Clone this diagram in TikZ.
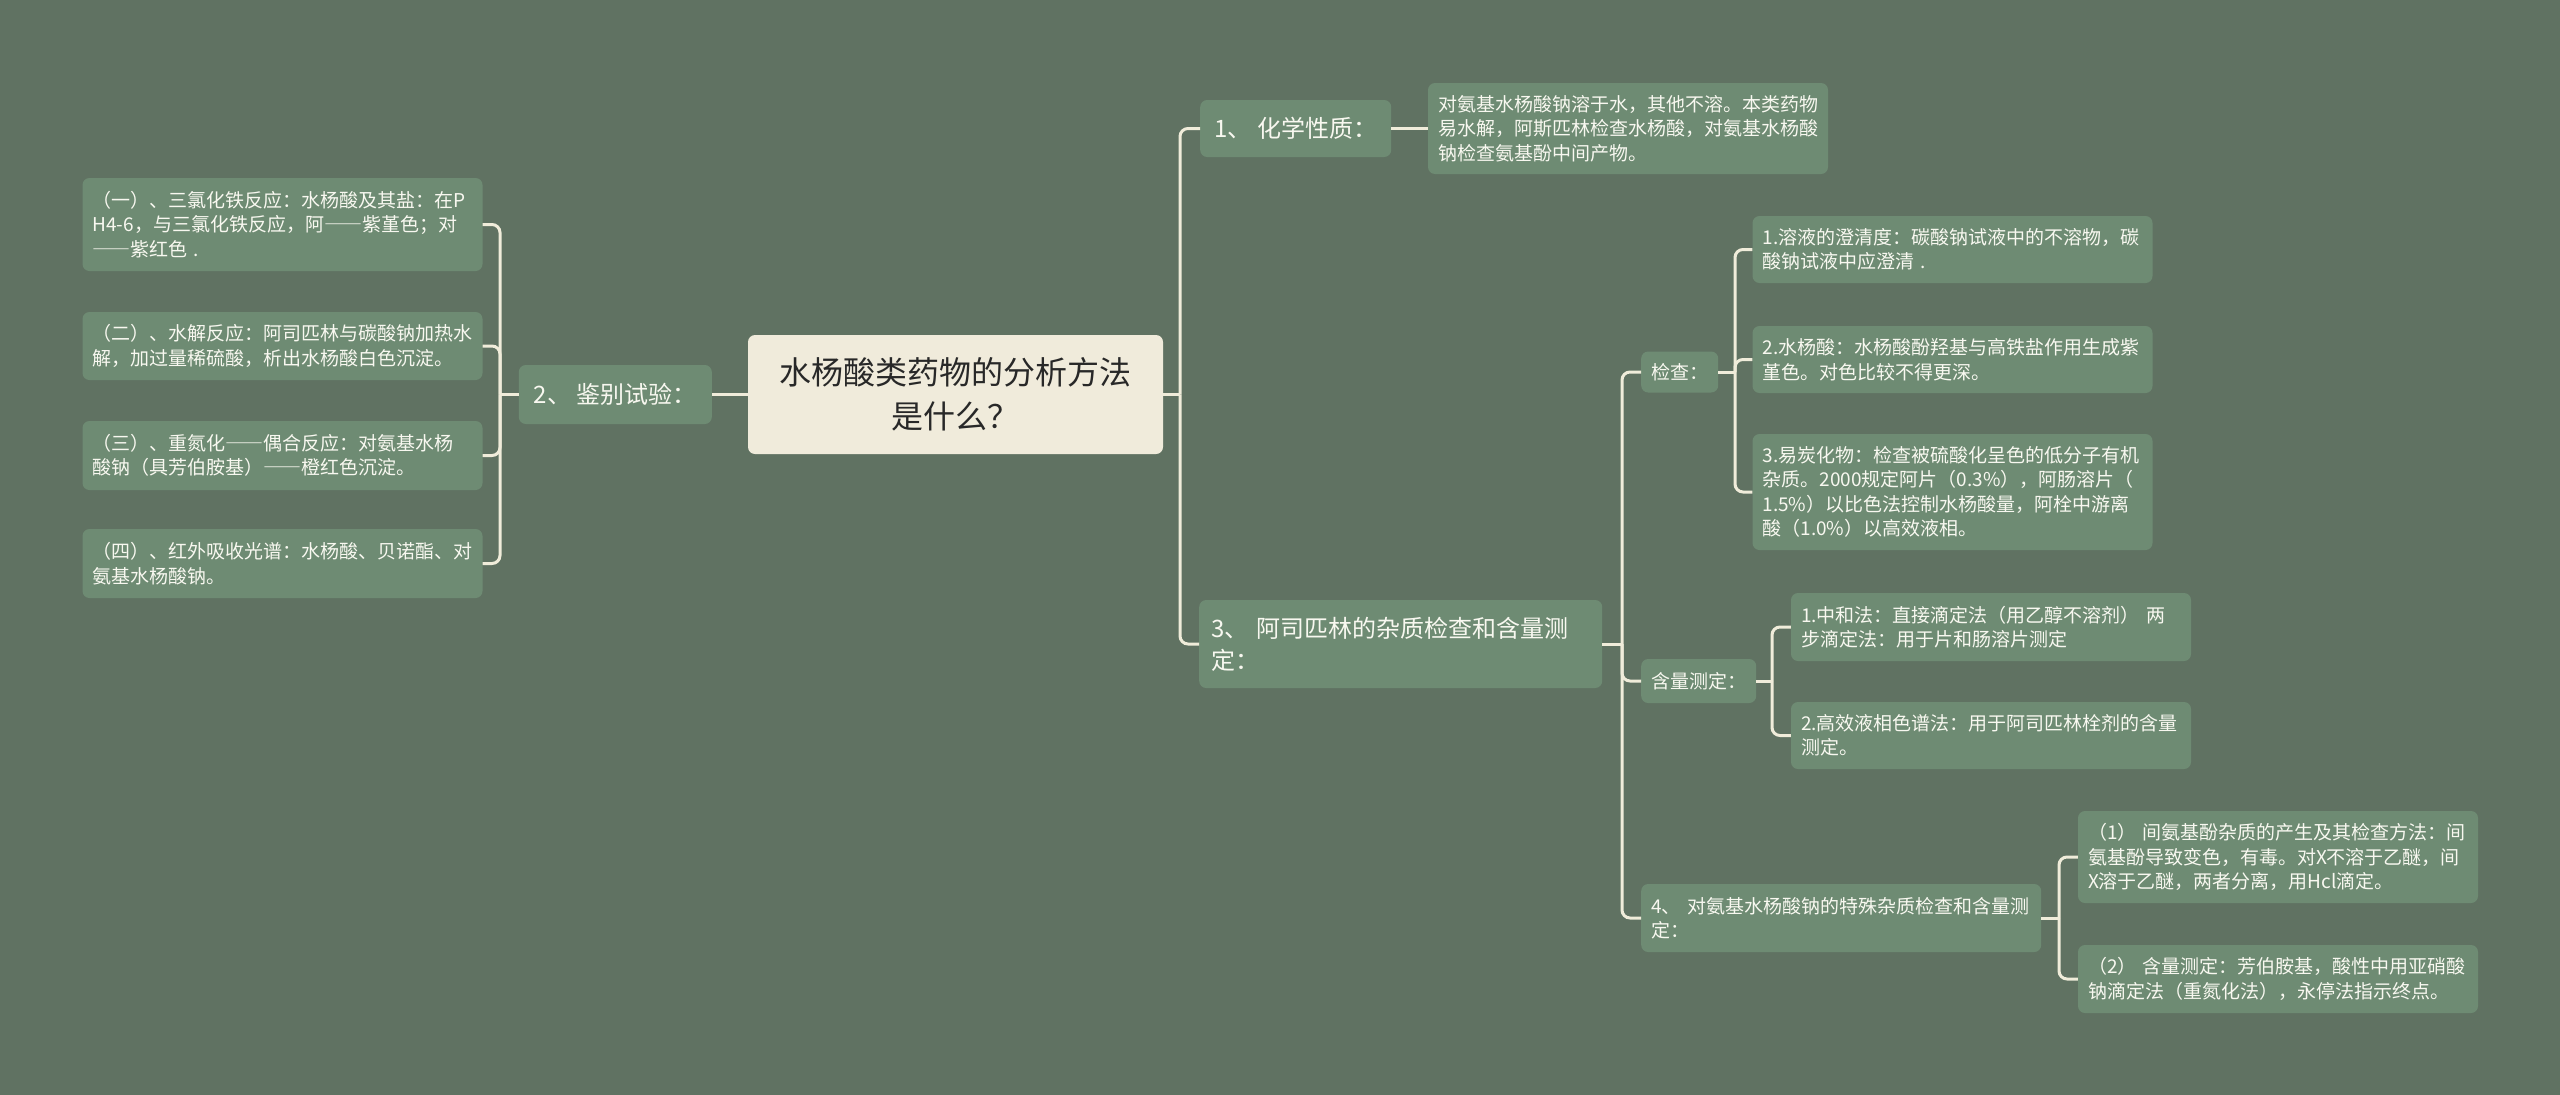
\documentclass[tikz,border=0pt]{standalone}
\usepackage{fontspec}
\setmainfont{Noto Sans CJK SC}
\newfontfamily\anchofont{Noto Sans CJK SC}[RawFeature=+fwid]
\newcommand{\raya}{{\anchofont ——}}
\definecolor{fondo}{RGB}{96,114,98}
\definecolor{verde}{RGB}{110,139,115}
\definecolor{linea}{RGB}{240,236,218}
\definecolor{crema}{RGB}{240,235,219}
\definecolor{oscuro}{RGB}{40,40,40}
\definecolor{claro}{RGB}{248,248,240}
\begin{document}
\begin{tikzpicture}[x=1pt,y=-1pt,
        rama/.style={draw=linea, line width=3pt, rounded corners=8pt},
        raiz/.style={fill=crema, text=oscuro, rounded corners=7pt, align=center, inner sep=0pt,
            minimum width=415pt, minimum height=119pt, font=\fontsize{32}{44}\selectfont},
        tema/.style={fill=verde, text=claro, rounded corners=7pt, align=left, inner xsep=12pt, inner ysep=0pt,
            font=\fontsize{24}{32}\selectfont},
        hoja/.style={fill=verde, text=claro, rounded corners=7pt, align=left, inner xsep=10pt, inner ysep=0pt,
            text width=380pt, font=\fontsize{19}{24.5}\selectfont}]
        % Fondo
        \fill[fondo] (0,0) rectangle (2560,1095);
        % Nodo central
        \node[raiz] (raiz) at (955.5,394.5) {水杨酸类药物的分析方法\\是什么？};
        % Lado izquierdo
        \node[tema, anchor=east, minimum width=193pt, minimum height=59pt] (ident) at (712,394.5) {2、 鉴别试验：};
        \node[hoja, minimum height=93pt] (fe) at (282.5,224.5) {（一）、三氯化铁反应：水杨酸及其盐：在P\\H4-6，与三氯化铁反应，阿\raya 紫堇色；对\\\raya 紫红色 .};
        \node[hoja, minimum height=68pt] (hidro) at (282.5,346) {（二）、水解反应：阿司匹林与碳酸钠加热水\\解，加过量稀硫酸，析出水杨酸白色沉淀。};
        \node[hoja, minimum height=69pt] (diazo) at (282.5,455.5) {（三）、重氮化\raya 偶合反应：对氨基水杨\\酸钠（具芳伯胺基）\raya 橙红色沉淀。};
        \node[hoja, minimum height=69pt] (ir) at (282.5,563.5) {（四）、红外吸收光谱：水杨酸、贝诺酯、对\\氨基水杨酸钠。};
        % Lado derecho
        \node[tema, anchor=west, minimum width=191pt, minimum height=57pt] (quim) at (1200,128.5) {1、 化学性质：};
        \node[hoja, minimum height=91pt] (sol) at (1628,128.5) {对氨基水杨酸钠溶于水，其他不溶。本类药物\\易水解，阿斯匹林检查水杨酸，对氨基水杨酸\\钠检查氨基酚中间产物。};
        \node[tema, anchor=west, text width=379pt, minimum height=88pt] (aspi) at (1199,644) {3、 阿司匹林的杂质检查和含量测\\定：};
        \node[hoja, text width=, anchor=west, minimum height=41pt] (insp) at (1641,372) {检查：};
        \node[hoja, minimum height=67pt] (clar) at (1952.5,249.5) {1.溶液的澄清度：碳酸钠试液中的不溶物，碳\\酸钠试液中应澄清 .};
        \node[hoja, minimum height=67pt] (salic) at (1952.5,359.5) {2.水杨酸：水杨酸酚羟基与高铁盐作用生成紫\\堇色。对色比较不得更深。};
        \node[hoja, minimum height=116pt] (carb) at (1952.5,492) {3.易炭化物：检查被硫酸化呈色的低分子有机\\杂质。2000规定阿片（0.3\%），阿肠溶片（\\1.5\%）以比色法控制水杨酸量，阿栓中游离\\酸（1.0\%）以高效液相。};
        \node[hoja, text width=, anchor=west, minimum height=44pt] (cont) at (1641,681) {含量测定：};
        \node[hoja, minimum height=68pt] (neut) at (1991,627) {1.中和法：直接滴定法（用乙醇不溶剂） 两\\步滴定法：用于片和肠溶片测定};
        \node[hoja, minimum height=67pt] (hplc) at (1991,735.5) {2.高效液相色谱法：用于阿司匹林栓剂的含量\\测定。};
        \node[hoja, anchor=west, minimum height=68pt] (pas) at (1641,918) {4、 对氨基水杨酸钠的特殊杂质检查和含量测\\定：};
        \node[hoja, minimum height=92pt] (amino) at (2278,857) {（1） 间氨基酚杂质的产生及其检查方法：间\\氨基酚导致变色，有毒。对X不溶于乙醚，间\\X溶于乙醚，两者分离，用Hcl滴定。};
        \node[hoja, minimum height=68pt] (nitr) at (2278,979) {（2） 含量测定：芳伯胺基，酸性中用亚硝酸\\钠滴定法（重氮化法），永停法指示终点。};
        % Puntos de union
        \coordinate (jizq) at (500,394.5);
        \coordinate (jder) at (1180,394.5);
        \coordinate (jaspi) at (1622,644);
        \coordinate (jinsp) at (1735,372);
        \coordinate (jcont) at (1772,681);
        \coordinate (jpas) at (2059,918);
        % Ramas
        \draw[rama] (raiz.west) -- (ident.east);
        \draw[rama] (ident.west) -- (jizq);
        \foreach \n in {fe,hidro,diazo,ir}
            \draw[rama] (jizq) |- (\n.east);
        \draw[rama] (raiz.east) -- (jder);
        \draw[rama] (jder) |- (quim.west);
        \draw[rama] (jder) |- (aspi.west);
        \draw[rama] (quim.east) -- (sol.west);
        \draw[rama] (aspi.east) -- (jaspi);
        \foreach \n in {insp,cont,pas}
            \draw[rama] (jaspi) |- (\n.west);
        \draw[rama] (insp.east) -- (jinsp);
        \foreach \n in {clar,salic,carb}
            \draw[rama] (jinsp) |- (\n.west);
        \draw[rama] (cont.east) -- (jcont);
        \foreach \n in {neut,hplc}
            \draw[rama] (jcont) |- (\n.west);
        \draw[rama] (pas.east) -- (jpas);
        \foreach \n in {amino,nitr}
            \draw[rama] (jpas) |- (\n.west);
    \end{tikzpicture}
\end{document}
